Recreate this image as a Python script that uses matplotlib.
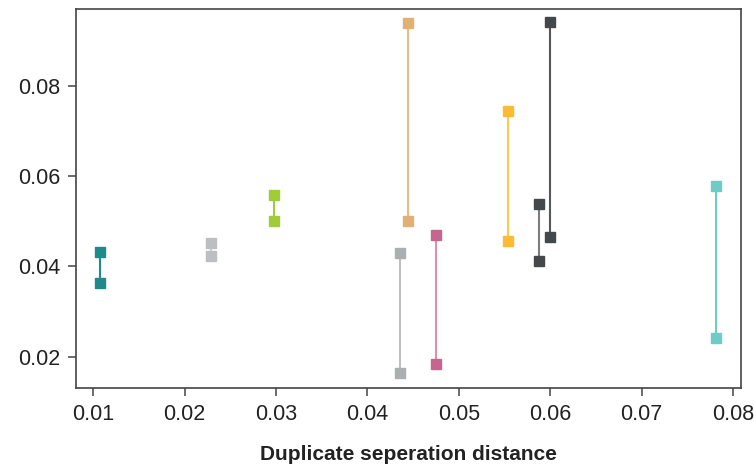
import matplotlib.pyplot as plt

plt.rcParams['font.family'] = ['Liberation Sans', 'DejaVu Sans']

# duplicate pairs: separation distance and the two measured values
distance = [0.01073, 0.02288, 0.02978, 0.04441, 0.04353, 0.04751, 0.05539, 0.05878, 0.05998, 0.07815]
value_hi = [0.04328, 0.04527, 0.05591, 0.09403, 0.04306, 0.04705, 0.07453, 0.05391, 0.09425, 0.05790]
value_lo = [0.03640, 0.04239, 0.05015, 0.05015, 0.01646, 0.01845, 0.04571, 0.04128, 0.04653, 0.02422]
marker_colors = ['#1f8a8a', '#bcbec2', '#a2cb3b', '#e2b074', '#acafb0',
                 '#c56690', '#fdbb30', '#45484b', '#45484b', '#6ecbc6']
line_colors = ['#1f8a8a', '#cfd0d2', '#a2cb3b', '#e6bb88', '#bdbfc0',
               '#d990b0', '#fdc955', '#7a7c7e', '#55585b', '#6ecbc6']

fig = plt.figure(figsize=(7.54, 4.67), dpi=100)
ax = fig.add_axes([0.1008, 0.1698, 0.8816, 0.8116])

for x, hi, lo, mc, lc in zip(distance, value_hi, value_lo, marker_colors, line_colors):
    ax.plot([x, x], [lo, hi], color=lc, lw=1.5, zorder=2)
    ax.plot([x, x], [lo, hi], ls='none', marker='s', ms=7.5, color=mc, zorder=3)

ax.set_xlim(0.00811, 0.08086)
ax.set_ylim(0.01313, 0.09713)
ax.set_xticks([0.01, 0.02, 0.03, 0.04, 0.05, 0.06, 0.07, 0.08])
ax.set_xticklabels(['0.01', '0.02', '0.03', '0.04', '0.05', '0.06', '0.07', '0.08'])
ax.set_yticks([0.02, 0.04, 0.06, 0.08])
ax.set_yticklabels(['0.02', '0.04', '0.06', '0.08'])

for s in ax.spines.values():
    s.set_color('#444444')
    s.set_linewidth(1.2)
ax.tick_params(direction='out', length=6, width=1.1, color='#444444',
               labelsize=15.5, labelcolor='#222222')
ax.tick_params(axis='x', pad=6)
ax.tick_params(axis='y', pad=5)

ax.set_xlabel('Duplicate seperation distance', fontsize=15, fontweight='bold',
              color='#222222', labelpad=14)

fig.savefig('out.png', dpi=100)
